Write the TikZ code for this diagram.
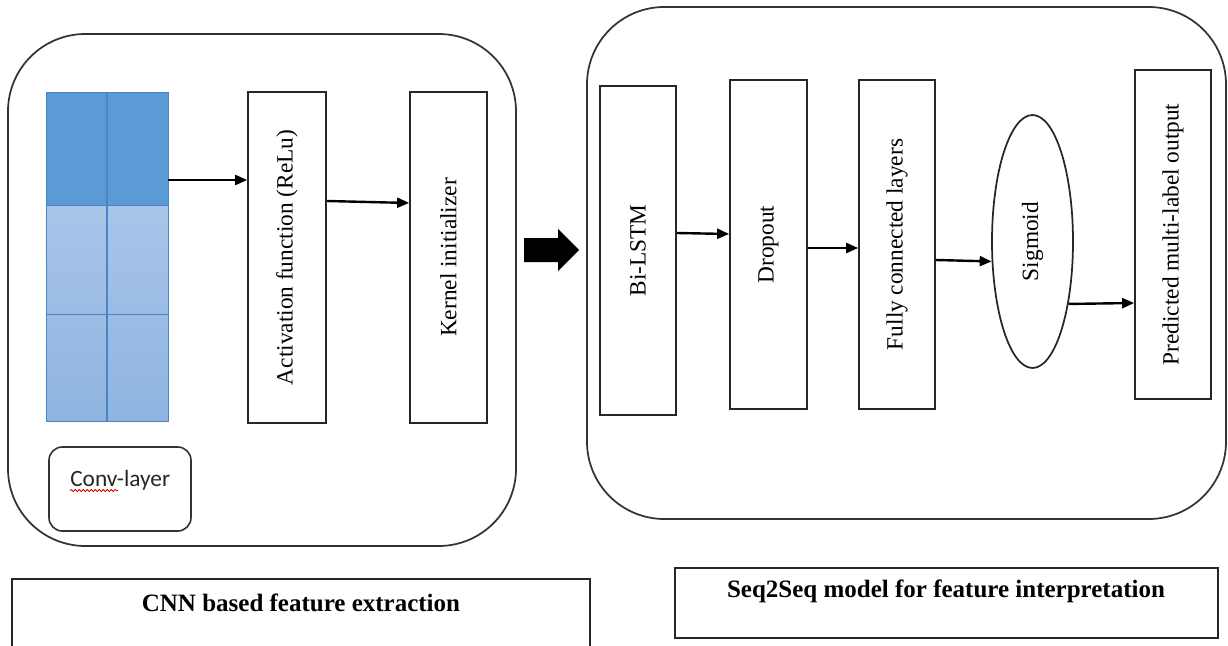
\documentclass[tikz,border=0pt]{standalone}
\usepackage{fontspec}
\setmainfont{Liberation Serif}
\newfontfamily\calibri{Carlito}
\usetikzlibrary{arrows.meta,fit,shapes.geometric,decorations.pathmorphing}
\definecolor{darkcell}{HTML}{5B9BD5}
\definecolor{lighttop}{HTML}{A8C5E9}
\definecolor{lightbot}{HTML}{8FB4E1}
\definecolor{cellline}{HTML}{4A86C5}
\definecolor{frame}{HTML}{333333}
\begin{document}
\begin{tikzpicture}[x=0.75pt,y=-0.75pt,
  box/.style={draw=black!85, line width=1.3pt, inner sep=0pt, font=\fontsize{17.5}{20}\selectfont},
  group/.style={draw=frame, line width=1.3pt, rounded corners=58pt},
  arr/.style={-{Triangle[length=9pt,width=7.5pt]}, line width=1.8pt},
  capbox/.style={draw=black!85, line width=1.3pt, inner sep=0pt},
  captext/.style={font=\fontsize{18.75}{22}\selectfont\bfseries},
]
\useasboundingbox (0,0) rectangle (1228,646);
\clip (0,0) rectangle (1228,646);

% outer groups
\draw[group] (8,34) rectangle (516,546);
\draw[group] (587,7) rectangle (1226,519);

% feature grid
\fill[darkcell] (46,92) rectangle (168,205);
\shade[top color=lighttop, bottom color=lightbot] (46,205) rectangle (168,421);
\draw[cellline, line width=0.6pt] (46,92) rectangle (168,421);
\draw[cellline, line width=0.9pt] (107,92) -- (107,421);
\draw[cellline, line width=0.6pt] (46,205) -- (168,205) (46,314) -- (168,314);
\node[fit={(46,92) (168,421)}, inner sep=0pt] (grid) {};

% left column boxes
\node[box, minimum width=58.5pt, minimum height=248.25pt] (act) at (287,257.5) {\rotatebox{90}{Activation function (ReLu)}};
\node[box, minimum width=57.75pt, minimum height=248.25pt] (ker) at (448.5,257.5) {\rotatebox{90}{Kernel initializer}};

\node[draw=frame, line width=1.2pt, rounded corners=10pt, inner sep=0pt, minimum width=106.5pt, minimum height=63pt] (conv) at (120,489) {};
\node[anchor=base west, inner sep=0pt, font=\calibri\fontsize{17.5}{20}\selectfont, text=black!85] (convt) at (70,486) {Conv-layer};
\draw[red!85!black, line width=0.6pt, decorate, decoration={snake, amplitude=0.8pt, segment length=3pt}]
  ([yshift=-3.4pt]convt.base west) -- ++(48,0);

\draw[arr] (grid.east |- 0,180) -- (act.west |- 0,180);
\draw[arr] (act.east |- 0,201) -- (ker.west |- 0,203);

% big arrow between the halves
\fill[black] (524,238) -- (558,238) -- (558,229) -- (579,250) -- (558,271) -- (558,262) -- (524,262) -- cycle;

% right column boxes
\node[box, minimum width=57pt, minimum height=246.75pt] (bilstm) at (638,250.5) {\rotatebox{90}{Bi-LSTM}};
\node[box, minimum width=57.75pt, minimum height=246.75pt] (drop) at (768.5,244.5) {\rotatebox{90}{Dropout}};
\node[box, minimum width=57pt, minimum height=246.75pt] (fc) at (897,244.5) {\rotatebox{90}{Fully connected layers}};
\node[box, ellipse, minimum width=60.75pt, minimum height=189.75pt] (sig) at (1032.5,241.5) {\rotatebox{90}{Sigmoid}};
\node[box, minimum width=57pt, minimum height=246.75pt] (pred) at (1173,234.5) {\rotatebox{90}{Predicted multi-label output}};

\draw[arr] (bilstm.east |- 0,233) -- (drop.west |- 0,234);
\draw[arr] (drop.east |- 0,248) -- (fc.west |- 0,248);
\draw[arr] (fc.east |- 0,260) -- (sig.206);
\draw[arr] (sig.-60) -- (pred.west |- 0,303);

% captions
\node[capbox, minimum width=433.5pt, minimum height=105.75pt] (capL) at (301,649.5) {};
\node[captext] (capLt) at (301,603) {CNN based feature extraction};
\node[capbox, minimum width=407.25pt, minimum height=52.5pt] (capR) at (946.5,603) {};
\node[captext] (capRt) at (946,591) {Seq2Seq model for feature interpretation};
\end{tikzpicture}
\end{document}
